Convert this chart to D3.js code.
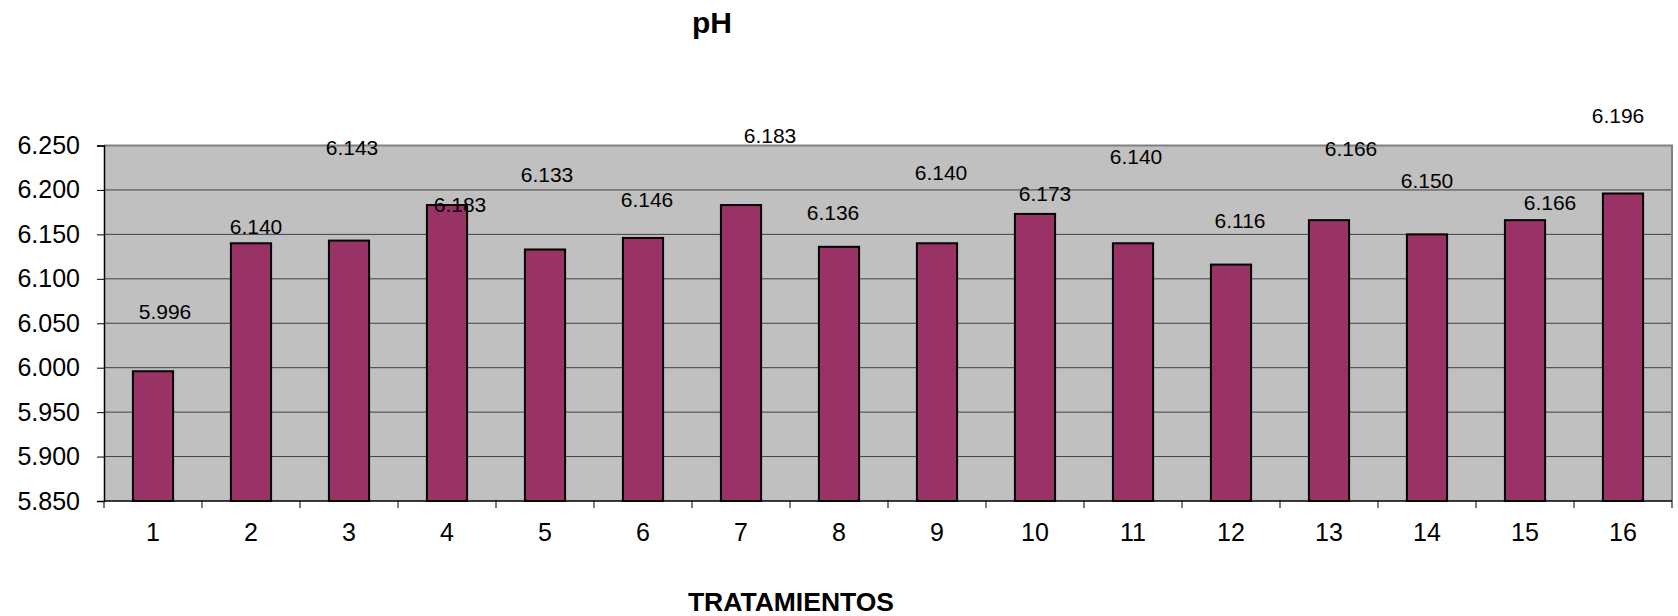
<!DOCTYPE html>
<html>
<head>
<meta charset="utf-8">
<script src="https://cdn.jsdelivr.net/npm/d3@7"></script>
<style>
  html, body { margin: 0; padding: 0; background: #fff; }
  svg { display: block; font-family: Arial, "Liberation Sans", sans-serif; }
</style>
</head>
<body>
<svg id="chart" width="1678" height="616"></svg>
<script>
// ---- data ----
const categories = ["1","2","3","4","5","6","7","8","9","10","11","12","13","14","15","16"];
const phValues = [5.996, 6.140, 6.143, 6.183, 6.133, 6.146, 6.183, 6.136, 6.140, 6.173, 6.140, 6.116, 6.166, 6.150, 6.166, 6.196];
const yTicks = [5.85, 5.90, 5.95, 6.00, 6.05, 6.10, 6.15, 6.20, 6.25];
const titleText = "pH";
const xAxisTitle = "TRATAMIENTOS";

// ---- layout (label placement as in the original, px relative to bar top / bar centre) ----
const labelDx = [12, 5, 3, 13, 2, 4, 29, -6, 4, 10, 3, 9, 22, 0, 25, -5];
const labelDy = [-52, -9, -86, 7, -67, -31, -62, -26.5, -63.5, -13.3, -79.6, -36.6, -64.6, -46.4, -10.6, -71];

const W = 1678, H = 616;
const margin = { top: 145.5, right: 6, bottom: 115, left: 104 };
const iw = W - margin.left - margin.right;
const ih = H - margin.top - margin.bottom;

const svg = d3.select("#chart");
const g = svg.append("g").attr("transform", `translate(${margin.left},${margin.top})`);

const x = d3.scaleBand().domain(categories).range([0, iw]).paddingInner(0.59).paddingOuter(0.295);
const xStep = d3.scaleBand().domain(categories).range([0, iw]).padding(0);
const y = d3.scaleLinear().domain([5.85, 6.25]).range([ih, 0]);

// plot background
g.append("rect").attr("x", 0).attr("y", 0).attr("width", iw).attr("height", ih)
  .attr("fill", "#C0C0C0");

// gridlines
g.append("g").selectAll("line").data(yTicks.slice(1, -1)).join("line")
  .attr("x1", 0).attr("x2", iw)
  .attr("y1", d => y(d)).attr("y2", d => y(d))
  .attr("stroke", "#404040").attr("stroke-width", 1);

// plot border (top & right)
g.append("path")
  .attr("d", `M0,${y(6.25)}H${iw}V${ih}`)
  .attr("fill", "none").attr("stroke", "#808080").attr("stroke-width", 2);

// bars
g.append("g").selectAll("rect").data(phValues).join("rect")
  .attr("x", (d, i) => x(categories[i]))
  .attr("y", d => y(d))
  .attr("width", x.bandwidth())
  .attr("height", d => ih - y(d))
  .attr("fill", "#993366")
  .attr("stroke", "#000").attr("stroke-width", 2);

// y axis
const yAxis = d3.axisLeft(y).tickValues(yTicks).tickFormat(d3.format(".3f")).tickSize(7).tickPadding(17);
const ya = g.append("g").call(yAxis);
ya.select(".domain").attr("stroke", "#000").attr("stroke-width", 1.5);
ya.selectAll(".tick line").attr("stroke", "#000");
ya.selectAll(".tick text").attr("font-size", 25).attr("fill", "#000")
  .attr("font-family", "Arial, 'Liberation Sans', sans-serif");

// x axis: ticks on category boundaries
const xa = g.append("g").attr("transform", `translate(0,${ih})`);
xa.append("line").attr("x1", 0).attr("x2", iw).attr("stroke", "#000").attr("stroke-width", 1.5);
const boundaries = categories.map(c => xStep(c)).concat([iw]);
xa.selectAll("line.tk").data(boundaries).join("line").attr("class", "tk")
  .attr("x1", d => d).attr("x2", d => d).attr("y1", 0).attr("y2", 7)
  .attr("stroke", "#000");
xa.selectAll("text").data(categories).join("text")
  .attr("x", d => xStep(d) + xStep.bandwidth() / 2)
  .attr("y", 40)
  .attr("text-anchor", "middle")
  .attr("font-size", 25).attr("fill", "#000")
  .text(d => d);

// data labels
g.append("g").selectAll("text").data(phValues).join("text")
  .attr("x", (d, i) => x(categories[i]) + x.bandwidth() / 2 + labelDx[i])
  .attr("y", (d, i) => y(d) + labelDy[i])
  .attr("text-anchor", "middle")
  .attr("font-size", 21).attr("fill", "#000")
  .text(d => d3.format(".3f")(d));

// titles
svg.append("text").attr("x", 712).attr("y", 33).attr("text-anchor", "middle")
  .attr("font-size", 30).attr("font-weight", "bold").text(titleText);
svg.append("text").attr("x", 791).attr("y", 611).attr("text-anchor", "middle")
  .attr("font-size", 26.5).attr("font-weight", "bold").text(xAxisTitle);
</script>
</body>
</html>
